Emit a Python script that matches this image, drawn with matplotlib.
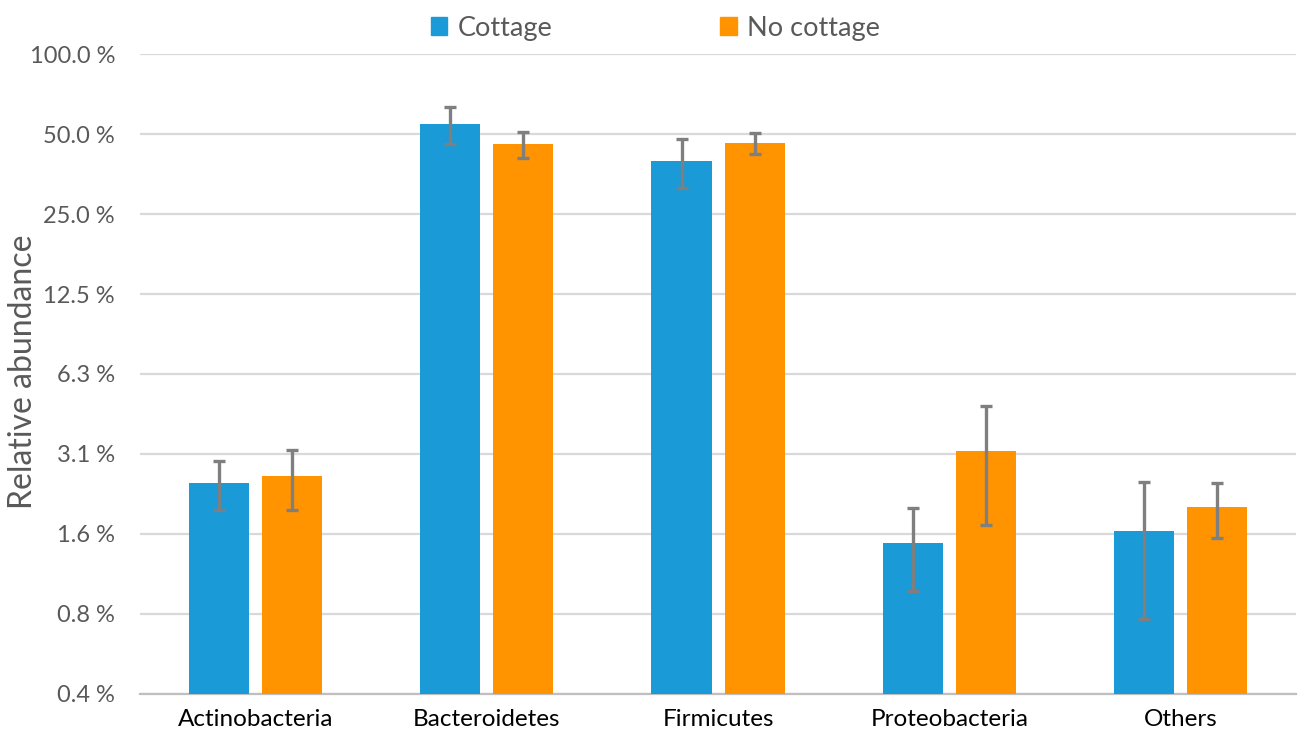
import matplotlib.pyplot as plt
import numpy as np
from matplotlib.patches import Patch

plt.rcParams['font.family'] = ['Lato', 'DejaVu Sans']

categories = ['Actinobacteria', 'Bacteroidetes', 'Firmicutes', 'Proteobacteria', 'Others']
cottage = [2.43, 54.5, 39.6, 1.45, 1.60]
cottage_err = [0.51, 8.6, 8.2, 0.50, 0.85]
no_cottage = [2.58, 45.9, 46.3, 3.21, 1.97]
no_cottage_err = [0.66, 5.2, 4.2, 1.52, 0.46]

tick_vals = [100, 50, 25, 12.5, 6.25, 3.125, 1.5625, 0.78125, 0.390625]
tick_labels = ['100.0 %', '50.0 %', '25.0 %', '12.5 %', '6.3 %', '3.1 %', '1.6 %', '0.8 %', '0.4 %']

blue = '#1A9AD6'
orange = '#FF9300'
grey_txt = '#595959'

fig = plt.figure(figsize=(12.98, 7.40), dpi=100)
ax = fig.add_axes([0.1079, 0.0622, 0.8906, 0.8648])

x = np.arange(len(categories))
w = 0.26
off = 0.158
err_kw = dict(ecolor='#7F7F7F', elinewidth=2.4, capsize=4, capthick=2.4)
ax.bar(x - off, cottage, w, color=blue, yerr=cottage_err, error_kw=err_kw, zorder=3)
ax.bar(x + off, no_cottage, w, color=orange, yerr=no_cottage_err, error_kw=err_kw, zorder=3)

ax.set_yscale('log', base=2)
ax.set_ylim(0.390625, 100)
ax.set_xlim(-0.5, len(categories) - 0.5)
ax.set_yticks(tick_vals)
ax.set_yticklabels(tick_labels)
ax.minorticks_off()
ax.set_xticks(x)
ax.set_xticklabels(categories)

ax.grid(axis='y', color='#D9D9D9', linewidth=1.6, zorder=0)
ax.set_axisbelow(True)
for s in ['top', 'right', 'left']:
    ax.spines[s].set_visible(False)
ax.spines['bottom'].set_color('#BFBFBF')
ax.spines['bottom'].set_linewidth(1.6)
ax.tick_params(axis='y', length=0, pad=18, labelsize=17, labelcolor=grey_txt)
ax.tick_params(axis='x', length=0, pad=11, labelsize=17.5, labelcolor='#000000')

ax.set_ylabel('Relative abundance', fontsize=23, color=grey_txt)
ax.yaxis.set_label_coords(-0.088, 0.503)

handles = [Patch(color=blue, label='Cottage'), Patch(color=orange, label='No cottage')]
fig.legend(handles=handles, loc='center', bbox_to_anchor=(0.505, 0.962), ncol=2,
           frameon=False, fontsize=19.5, handlelength=0.6, handleheight=0.6,
           handletextpad=0.4, columnspacing=6.2, labelcolor=grey_txt)

fig.savefig('out.png', dpi=100)
